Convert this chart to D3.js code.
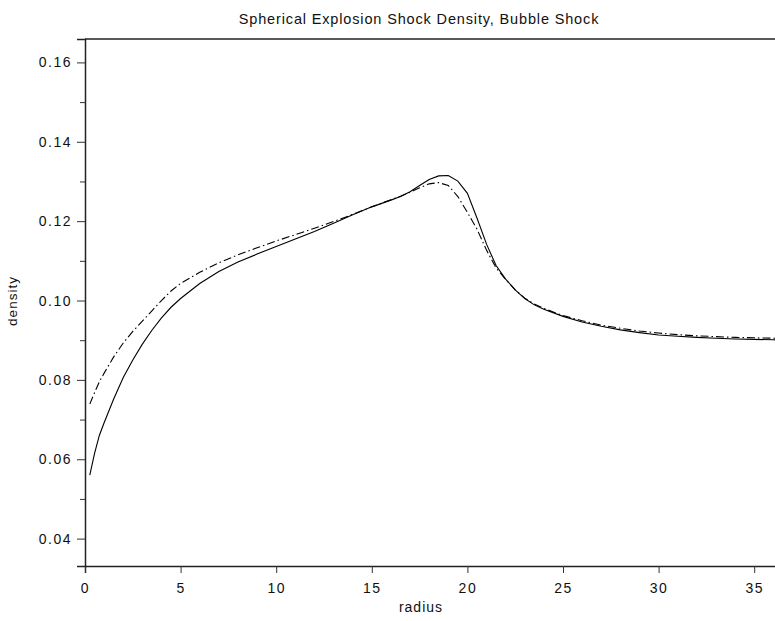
<!DOCTYPE html>
<html>
<head>
<meta charset="utf-8">
<script src="https://cdn.jsdelivr.net/npm/d3@7"></script>
<style>
  body { margin: 0; background: #fff; }
  svg { display: block; font-family: "Liberation Sans", Arial, sans-serif; }
</style>
</head>
<body>
<svg width="775" height="621"></svg>
<script>
// radius samples, shared by both runs
const radius = [0.25, 0.5, 0.75, 1, 1.5, 2, 2.5, 3, 3.5, 4, 4.5, 5, 6, 7, 8, 9, 10, 11, 12, 13, 14, 15,
  16, 16.5, 17, 17.5, 18, 18.5, 19, 19.5, 20, 20.5, 21, 21.5, 22, 22.5, 23, 23.5, 24,
  25, 26, 27, 28, 29, 30, 31, 32, 33, 34, 35, 36, 37];
// solid line
const densitySolid = [0.0560, 0.0615, 0.0660, 0.0692, 0.0752, 0.0806, 0.0850, 0.0890, 0.0925, 0.0956, 0.0983, 0.1005,
  0.1043, 0.1073, 0.1097, 0.1117, 0.1136, 0.1155, 0.1174, 0.1195, 0.1216, 0.1236,
  0.1253, 0.1262, 0.1274, 0.1290, 0.1305, 0.1314, 0.1315, 0.1301, 0.1270, 0.1208, 0.1142, 0.1088, 0.1054, 0.1027, 0.1005, 0.0989, 0.0978,
  0.0960, 0.0946, 0.0935, 0.0926, 0.0919, 0.0913, 0.0910, 0.0907, 0.0905, 0.0903, 0.0902, 0.0901, 0.0900];
// dash-dot line
const densityDashDot = [0.0739, 0.0768, 0.0795, 0.0817, 0.0858, 0.0893, 0.0922, 0.0948, 0.0974, 0.1000, 0.1024, 0.1043,
  0.1071, 0.1095, 0.1115, 0.1133, 0.1150, 0.1166, 0.1182, 0.1199, 0.1217, 0.1236,
  0.1254, 0.1263, 0.1273, 0.1284, 0.1294, 0.1297, 0.1290, 0.1262, 0.1222, 0.1180, 0.1127, 0.1082, 0.1053, 0.1027, 0.1006, 0.0991, 0.0980,
  0.0962, 0.0949, 0.0938, 0.0930, 0.0923, 0.0918, 0.0914, 0.0911, 0.0909, 0.0907, 0.0906, 0.0905, 0.0904];
const xTicks = [0, 5, 10, 15, 20, 25, 30, 35];
const yTicks = [0.04, 0.06, 0.08, 0.10, 0.12, 0.14, 0.16];
const yMinor = [0.05, 0.07, 0.09, 0.11, 0.13, 0.15];

const svg = d3.select("svg");
const plotLeft = 85, plotTop = 39, plotBottom = 566;

// plot box runs past the right edge of the window
const x = d3.scaleLinear().domain([0, 40]).range([plotLeft, plotLeft + 40 * 19.12]);
const y = d3.scaleLinear().domain([0.0331, 0.1659]).range([plotBottom, plotTop]);

const line = d3.line()
  .x((d, i) => x(radius[i]))
  .y(d => y(d));

svg.append("path")
  .datum(densitySolid)
  .attr("d", line)
  .attr("fill", "none")
  .attr("stroke", "#000")
  .attr("stroke-width", 1.1);

svg.append("path")
  .datum(densityDashDot)
  .attr("d", line)
  .attr("fill", "none")
  .attr("stroke", "#000")
  .attr("stroke-width", 1.1)
  .attr("stroke-dasharray", "8,3,1.5,3");

// frame
svg.append("line")
  .attr("x1", plotLeft).attr("x2", 775).attr("y1", plotTop).attr("y2", plotTop)
  .attr("stroke", "#222").attr("stroke-width", 1.5);

svg.append("g")
  .attr("transform", `translate(0,${plotBottom})`)
  .call(d3.axisBottom(x).tickValues(xTicks).tickSize(7).tickPadding(10).tickFormat(d3.format("d")));

svg.append("g")
  .attr("transform", `translate(${plotLeft},0)`)
  .call(d3.axisLeft(y).tickValues(yTicks).tickSize(8).tickPadding(5).tickFormat(d3.format(".2f")));

svg.append("g")
  .attr("transform", `translate(${plotLeft},0)`)
  .call(d3.axisLeft(y).tickValues(yMinor).tickSize(5).tickFormat(""))
  .select(".domain").remove();

svg.selectAll(".domain").attr("stroke", "#222").attr("stroke-width", 1.5);
svg.selectAll(".tick line").attr("stroke", "#333");
svg.selectAll(".tick text").attr("font-size", 14).attr("fill", "#111")
  .attr("letter-spacing", 1.5)
  .attr("font-family", "Liberation Sans, Arial, sans-serif");

svg.append("text")
  .attr("x", 419).attr("y", 24)
  .attr("text-anchor", "middle")
  .attr("font-size", 14.5)
  .attr("letter-spacing", 0.85)
  .attr("fill", "#111")
  .text("Spherical Explosion Shock Density, Bubble Shock");

svg.append("text")
  .attr("x", 421).attr("y", 612)
  .attr("text-anchor", "middle")
  .attr("font-size", 14)
  .attr("letter-spacing", 1)
  .attr("fill", "#111")
  .text("radius");

svg.append("text")
  .attr("transform", "translate(17,301) rotate(-90)")
  .attr("text-anchor", "middle")
  .attr("font-size", 13.5)
  .attr("letter-spacing", 1)
  .attr("fill", "#111")
  .text("density");
</script>
</body>
</html>
